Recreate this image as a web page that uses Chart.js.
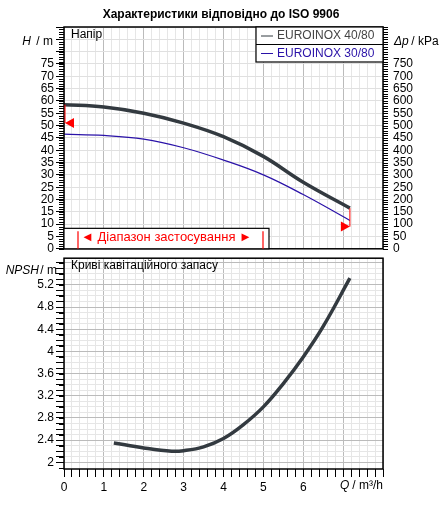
<!DOCTYPE html>
<html><head><meta charset="utf-8">
<script src="https://cdn.jsdelivr.net/npm/chart.js@4"></script>
<style>
body{margin:0;background:#fff;width:442px;height:510px;position:relative;overflow:hidden}
#wt{position:absolute;left:0;top:0}
#wb{position:absolute;left:0;top:249px}
</style></head><body>
<div id="wt" style="width:442px;height:258px"><canvas id="top"></canvas></div>
<div id="wb" style="width:442px;height:261px"><canvas id="bot"></canvas></div>
<script>
const qTicks = [0, 1, 2, 3, 4, 5, 6];
const q4080 = [0, 1, 2, 3, 4, 5, 6, 7.17];
const h4080 = [58.5, 57.5, 55, 51, 45.5, 37.5, 27, 16.5];
const q3080 = [0, 1, 2, 3, 4, 5, 6, 7.17];
const h3080 = [46.5, 46, 44.5, 41, 36, 30, 22, 11.5];
const qNpsh = [1.25, 2, 2.7, 3, 3.5, 4, 4.5, 5, 5.5, 6, 6.5, 7.17];
const npsh = [2.35, 2.26, 2.2, 2.21, 2.28, 2.43, 2.68, 3.0, 3.42, 3.9, 4.45, 5.32];
const legendNames = ["EUROINOX 40/80", "EUROINOX 30/80"];
const colors = ["#333a40", "#2a12a8"];
const FONT = "Liberation Sans, Arial, sans-serif";
Chart.defaults.font.family = FONT;
Chart.defaults.animation = false;

const pts = (xs, ys) => xs.map((x, i) => ({ x, y: ys[i] }));
const fixW = (w) => (s) => { s.width = w; };
const fixH = (h) => (s) => { s.height = h; };

function minorTicks(ctx, scale, x, from, to, step, len) {
  ctx.strokeStyle = "#000"; ctx.lineWidth = 1; ctx.beginPath();
  for (let v = from; v <= to + 1e-9; v += step) {
    const y = Math.round(scale.getPixelForValue(v)) + 0.5;
    ctx.moveTo(x, y); ctx.lineTo(x + len, y);
  }
  ctx.stroke();
}

const topDeco = {
  id: "topDeco",
  afterDraw(c) {
    const { ctx, chartArea: a, scales: { x, y } } = c;
    ctx.save();
    ctx.fillStyle = "#000"; ctx.font = "bold 12px " + FONT; ctx.textAlign = "center";
    ctx.fillText("Характеристики відповідно до ISO 9906", 221, 18);
    ctx.strokeStyle = "#000"; ctx.lineWidth = 1.5; ctx.strokeRect(a.left, a.top, a.right - a.left, a.bottom - a.top);
    minorTicks(ctx, y, a.left - 5, 0, 90, 1, 5);
    minorTicks(ctx, y, a.right, 0, 90, 1, 5);
    ctx.font = "12px " + FONT; ctx.textAlign = "left"; ctx.fillStyle = "#000";
    ctx.fillText("Напір", a.left + 7, a.top + 11);
    ctx.textAlign = "right";
    ctx.font = "italic 12px " + FONT; ctx.fillText("H", 31, 45);
    ctx.font = "12px " + FONT; ctx.fillText(" / m", 53, 45);
    ctx.textAlign = "left";
    ctx.font = "italic 12px " + FONT; ctx.fillText("Δp", 394, 45);
    ctx.font = "12px " + FONT; ctx.fillText(" / kPa", 408, 45);
    // legend box
    const lx = 256, lw = a.right - lx;
    ctx.fillStyle = "#fff"; ctx.fillRect(lx, a.top, lw, 35);
    ctx.strokeStyle = "#000"; ctx.lineWidth = 1.2; ctx.strokeRect(lx, a.top, lw, 35);
    ctx.beginPath(); ctx.moveTo(lx, a.top + 17.5); ctx.lineTo(a.right, a.top + 17.5); ctx.stroke();
    ctx.font = "12px " + FONT;
    legendNames.forEach((n, i) => {
      const yy = a.top + 9 + i * 17.5;
      ctx.strokeStyle = colors[i]; ctx.lineWidth = 1;
      ctx.beginPath(); ctx.moveTo(lx + 5, yy); ctx.lineTo(lx + 17, yy); ctx.stroke();
      ctx.fillStyle = i ? colors[1] : "#444"; ctx.textBaseline = "middle";
      ctx.fillText(n, lx + 21, yy);
    });
    // range markers
    ctx.fillStyle = "#f00"; ctx.strokeStyle = "#f00"; ctx.lineWidth = 1;
    const x0 = x.getPixelForValue(0), x1 = x.getPixelForValue(7.17);
    ctx.beginPath(); ctx.moveTo(x0 + 1, y.getPixelForValue(58.5)); ctx.lineTo(x0 + 1, y.getPixelForValue(51)); ctx.stroke();
    let yy = y.getPixelForValue(51);
    ctx.beginPath(); ctx.moveTo(x0 + 1, yy); ctx.lineTo(x0 + 10, yy - 5); ctx.lineTo(x0 + 10, yy + 5); ctx.fill();
    ctx.beginPath(); ctx.moveTo(x1, y.getPixelForValue(16.5)); ctx.lineTo(x1, y.getPixelForValue(9)); ctx.stroke();
    yy = y.getPixelForValue(9);
    ctx.beginPath(); ctx.moveTo(x1, yy); ctx.lineTo(x1 - 9, yy - 5); ctx.lineTo(x1 - 9, yy + 5); ctx.fill();
    // application range box
    const bx = a.left, by = y.getPixelForValue(1) - 18, bw = 205;
    ctx.fillStyle = "#fff"; ctx.fillRect(bx, by, bw, a.bottom - by);
    ctx.strokeStyle = "#000"; ctx.lineWidth = 1.2; ctx.strokeRect(bx, by, bw, a.bottom - by);
    ctx.fillStyle = "#f00"; ctx.textBaseline = "middle"; ctx.textAlign = "center"; ctx.font = "13px " + FONT;
    ctx.fillText("◄ Діапазон застосування ►", bx + bw / 2, by + 9);
    ctx.strokeStyle = "#f00";
    ctx.beginPath(); ctx.moveTo(bx + 14, by + 3); ctx.lineTo(bx + 14, a.bottom); ctx.moveTo(bx + 199, by + 3); ctx.lineTo(bx + 199, a.bottom); ctx.stroke();
    ctx.restore();
  }
};

new Chart(document.getElementById("top"), {
  type: "scatter",
  data: { datasets: [
    { data: pts(q4080, h4080), showLine: true, borderColor: colors[0], borderWidth: 3.5, pointRadius: 0, tension: 0.4 },
    { data: pts(q3080, h3080), showLine: true, borderColor: colors[1], borderWidth: 1.2, pointRadius: 0, tension: 0.4 },
  ]},
  plugins: [topDeco],
  options: {
    responsive: true, maintainAspectRatio: false, events: [],
    layout: { padding: { top: 27, bottom: 0 } },
    plugins: { legend: { display: false }, tooltip: { enabled: false } },
    scales: {
      x: { min: 0, max: 8, afterFit: fixH(3), ticks: { display: false, stepSize: 0.2 },
        grid: { color: (c) => Math.abs(c.tick.value % 1) < 1e-6 ? "#bbb" : "#e6e6e6", drawTicks: false }, border: { display: false } },
      y: { min: 0, max: 90, afterFit: fixW(64),
        ticks: { stepSize: 5, autoSkip: false, color: "#000", font: { size: 12 }, padding: 2, callback: (v) => v <= 75 ? v : "" },
        grid: { color: "#e0e0e0", tickLength: 8, tickColor: "#000" }, border: { display: false } },
      y2: { position: "right", min: 0, max: 900, afterFit: fixW(59),
        ticks: { stepSize: 50, autoSkip: false, color: "#000", font: { size: 12 }, padding: 2, callback: (v) => v <= 750 ? v : "" },
        grid: { display: false, tickLength: 8, tickColor: "#000" }, border: { display: false } },
    },
  },
});

const botDeco = {
  id: "botDeco",
  afterDraw(c) {
    const { ctx, chartArea: a, scales: { y } } = c;
    ctx.save();
    ctx.strokeStyle = "#000"; ctx.lineWidth = 1.5;
    ctx.strokeRect(a.left, a.top, a.right - a.left, a.bottom - a.top);
    minorTicks(ctx, y, a.left - 5, 1.9, 5.6, 0.1, 5);
    ctx.fillStyle = "#000"; ctx.font = "12px " + FONT; ctx.textAlign = "left"; ctx.textBaseline = "alphabetic";
    ctx.fillText("Криві кавітаційного запасу", a.left + 7, a.top + 11);
    ctx.textAlign = "right";
    ctx.font = "italic 12px " + FONT; ctx.fillText("NPSH", 39, a.top + 16);
    ctx.font = "12px " + FONT; ctx.fillText(" / m", 57, a.top + 16);
    ctx.textAlign = "left";
    ctx.font = "italic 12px " + FONT; ctx.fillText("Q", 340, 240);
    ctx.font = "12px " + FONT; ctx.fillText(" / m³/h", 349, 240);
    ctx.restore();
  }
};

new Chart(document.getElementById("bot"), {
  type: "scatter",
  data: { datasets: [
    { data: pts(qNpsh, npsh), showLine: true, borderColor: colors[0], borderWidth: 3.5, pointRadius: 0, tension: 0.4 },
  ]},
  plugins: [botDeco],
  options: {
    responsive: true, maintainAspectRatio: false, events: [],
    layout: { padding: { top: 0 } },
    plugins: { legend: { display: false }, tooltip: { enabled: false } },
    scales: {
      x: { min: 0, max: 8, afterFit: fixH(41),
        afterBuildTicks: (s) => { const t = []; for (let i = 0; i <= 40; i++) t.push({ value: i * 0.2 }); s.ticks = t; },
        ticks: { color: "#000", font: { size: 12 }, autoSkip: false, maxRotation: 0,
          callback: (v) => { const r = Math.round(v); return Math.abs(v - r) < 1e-6 && qTicks.includes(r) ? r : ""; } },
        grid: { color: (c) => Math.abs(c.tick.value - Math.round(c.tick.value)) < 1e-6 ? "#bbb" : "#e6e6e6", tickLength: 8, tickColor: "#000" },
        border: { display: false } },
      y: { min: 1.88, max: 5.68, afterFit: fixW(64),
        afterBuildTicks: (s) => { const t = []; for (let v = 2; v <= 5.6 + 1e-9; v += 0.1) t.push({ value: Math.round(v * 10) / 10 }); s.ticks = t; },
        ticks: { color: "#000", font: { size: 12 }, autoSkip: false, padding: 2,
          callback: (v) => Math.round(v * 10) % 4 === 0 && v <= 5.2 ? String(Math.round(v * 10) / 10) : "" },
        grid: { color: (c) => Math.round(c.tick.value * 10) % 4 === 0 ? "#bbb" : "#e6e6e6", tickLength: 8, tickColor: "#000" },
        border: { display: false } },
      yr: { position: "right", min: 0, max: 1, afterFit: fixW(59), ticks: { display: false }, grid: { display: false } },
    },
  },
});
</script>
</body></html>
